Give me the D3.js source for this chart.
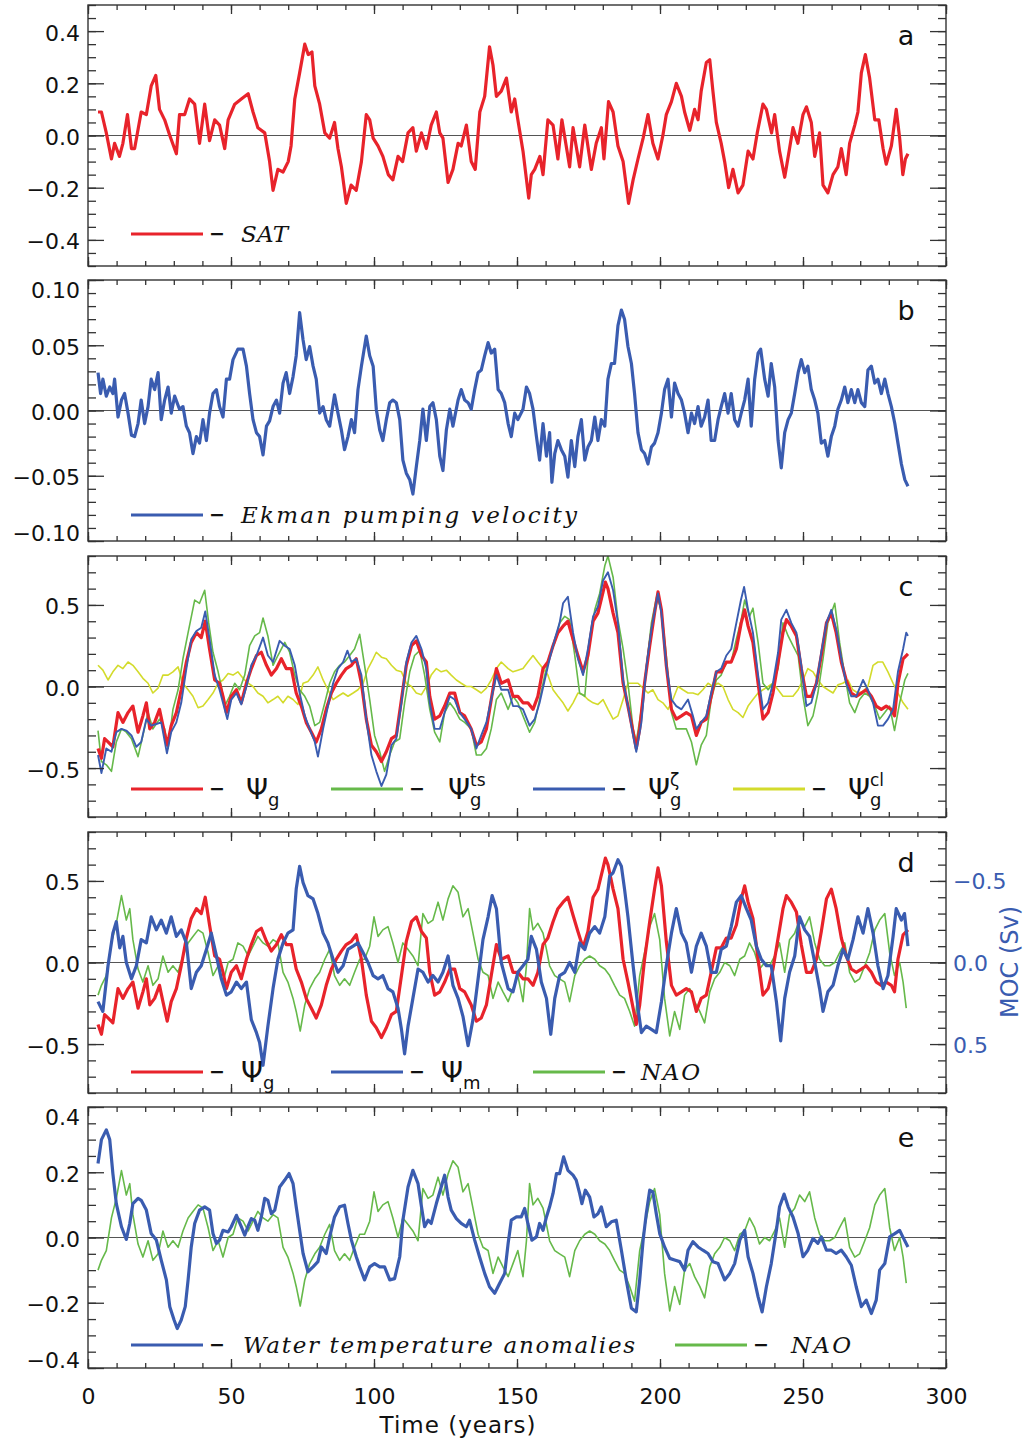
<!DOCTYPE html>
<html>
<head>
<meta charset="utf-8">
<script src="https://cdn.jsdelivr.net/npm/d3@7"></script>
<style>
  body { margin: 0; background: #fff; }
  text { font-family: "DejaVu Sans", sans-serif; }
  text.lab { font-family: "DejaVu Serif", serif; font-style: italic; }
</style>
</head>
<body>
<svg id="chart"></svg>
<script>
// *********************************************
// DATA  ([year, value])
// *********************************************
var sat = [[3.5,0.09],[4.7,0.09],[6.4,0.01],[8.2,-0.09],[9.3,-0.03],[11,-0.08],[12.2,-0.03],[13.8,0.08],[15.2,-0.05],[16.3,-0.05],[18.6,0.09],[20.4,0.08],[22.1,0.19],[23.7,0.23],[25,0.10],[26.8,0.06],[28.6,0.0],[30.9,-0.07],[32,0.08],[33.8,0.08],[35.5,0.14],[37.3,0.12],[39,-0.03],[40.8,0.12],[42.5,-0.02],[44.3,0.06],[46,0.04],[47.8,-0.05],[49,0.06],[51.3,0.12],[53.6,0.14],[56,0.16],[57.7,0.09],[59.4,0.03],[61.8,0.01],[63.5,-0.10],[64.7,-0.21],[66.4,-0.13],[68.2,-0.14],[70,-0.10],[71,-0.04],[72.3,0.14],[74,0.24],[75.8,0.35],[77,0.31],[78.3,0.32],[79.3,0.19],[81,0.12],[82.8,0.01],[84.5,-0.01],[86.2,0.05],[87.4,-0.05],[88.6,-0.12],[90.3,-0.26],[92,-0.19],[93.8,-0.21],[95.6,-0.10],[97.3,0.08],[98.5,0.06],[99.7,-0.01],[101.4,-0.04],[103.1,-0.08],[105,-0.15],[106.6,-0.17],[108.4,-0.08],[110,-0.10],[111.9,0.01],[113.6,0.03],[114.8,-0.06],[116.6,0.01],[118.3,-0.05],[120,0.04],[121.8,0.09],[123,0.01],[124.1,-0.01],[125.9,-0.18],[127.6,-0.13],[129.4,-0.03],[130.5,-0.04],[132.3,0.04],[134,-0.10],[135.4,-0.13],[137,0.09],[138.7,0.15],[140.4,0.34],[141.6,0.27],[142.8,0.15],[144.5,0.17],[146.3,0.22],[148,0.09],[149.2,0.14],[150.3,0.06],[152.1,-0.06],[154.1,-0.24],[155,-0.15],[156.2,-0.13],[158,-0.08],[159.1,-0.15],[160.8,0.06],[162.6,0.04],[164.3,-0.09],[165.7,0.06],[168.4,-0.12],[169.6,0.03],[171.9,-0.12],[173.7,0.04],[176,-0.13],[177.7,-0.03],[179.5,0.03],[180.4,-0.09],[182,0.13],[183.6,0.09],[185.3,-0.04],[187.1,-0.10],[189,-0.26],[190.6,-0.17],[192.3,-0.09],[194.1,-0.01],[195.8,0.08],[197.5,-0.03],[199.3,-0.09],[201,0.0],[202.2,0.08],[204,0.13],[205.7,0.20],[207.5,0.15],[208.6,0.09],[210.4,0.02],[212.1,0.10],[213.3,0.06],[214.4,0.17],[216.2,0.28],[217.4,0.29],[218.5,0.17],[219.7,0.05],[221.4,-0.03],[222.6,-0.10],[224,-0.20],[225.5,-0.13],[227.3,-0.22],[229,-0.19],[230.8,-0.06],[232.5,-0.09],[234,0.01],[236,0.12],[237.2,0.10],[239,0.01],[240.1,0.08],[241.8,-0.06],[243.6,-0.16],[245.3,-0.05],[246.5,0.03],[248.2,-0.03],[250,0.08],[251.2,0.11],[252.9,0.05],[254.1,-0.08],[255.8,0.01],[257,-0.19],[258.7,-0.22],[260.5,-0.15],[262.2,-0.12],[263.4,-0.05],[265.1,-0.15],[266.3,-0.03],[268.1,0.04],[269.2,0.09],[270.4,0.24],[271.8,0.31],[273.3,0.22],[275.1,0.06],[276.5,0.06],[278,-0.05],[279.1,-0.11],[280.9,-0.04],[282.6,0.10],[283.8,-0.01],[284.9,-0.15],[285.8,-0.09],[286.7,-0.07]];

var ekman = [[3.5,0.029],[4.4,0.013],[5.2,0.024],[6.4,0.011],[7.6,0.018],[8.7,0.013],[9.3,0.024],[10.5,-0.005],[11.7,0.008],[12.8,0.013],[14,-0.002],[15.2,-0.019],[16.3,-0.020],[17.5,-0.010],[18.6,0.008],[19.8,-0.010],[21,0.003],[22.1,0.024],[23.3,0.016],[24.5,0.029],[25.6,-0.007],[26.8,0.008],[28,0.018],[29.1,-0.002],[30.3,0.011],[32,0.001],[33.2,0.003],[34.4,-0.012],[35.5,-0.017],[36.7,-0.033],[37.9,-0.020],[39,-0.025],[40.2,-0.007],[41.4,-0.023],[42.5,-0.002],[43.7,0.013],[44.9,0.016],[46,0.003],[47.2,-0.005],[48.4,0.024],[49.5,0.024],[50.7,0.039],[52.4,0.047],[54.2,0.047],[55.4,0.034],[56.5,0.013],[57.7,-0.007],[58.9,-0.017],[60,-0.020],[61.2,-0.034],[62.4,-0.012],[63.5,-0.008],[64.7,0.003],[65.9,0.008],[67,-0.002],[68.2,0.021],[69.3,0.029],[70.5,0.013],[71.7,0.026],[72.8,0.042],[74,0.075],[75.2,0.054],[76.3,0.039],[77.5,0.049],[78.7,0.034],[79.8,0.024],[81,-0.002],[82.2,0.003],[83.3,-0.007],[84.5,-0.012],[86.2,0.012],[87.4,-0.002],[88.6,-0.015],[89.7,-0.030],[90.9,-0.020],[92.1,-0.007],[93.2,-0.017],[94.4,0.016],[95.6,0.034],[97.3,0.057],[98.5,0.042],[99.7,0.034],[100.8,0.001],[102,-0.015],[103.1,-0.023],[104.3,-0.007],[105.5,0.006],[106.6,0.008],[107.8,0.006],[109,-0.007],[110.1,-0.038],[111.3,-0.048],[112.5,-0.053],[113.6,-0.064],[114.8,-0.043],[116,-0.023],[117.1,0.001],[118.3,-0.023],[119.5,0.003],[120.6,0.006],[121.8,-0.007],[123,-0.035],[124.1,-0.046],[125.3,-0.015],[126.5,0.001],[127.6,-0.012],[129.4,0.008],[130.5,0.016],[131.7,0.008],[132.9,0.006],[134,0.001],[135.2,0.016],[136.4,0.029],[137.5,0.031],[138.7,0.042],[139.9,0.052],[141,0.044],[142.2,0.047],[143.4,0.016],[144.5,0.013],[145.7,0.006],[146.9,-0.010],[148,-0.020],[149.2,-0.002],[150.3,-0.007],[152.1,0.001],[153.3,0.018],[154.4,0.013],[155.6,0.001],[156.8,-0.020],[157.9,-0.038],[159.1,-0.010],[160.3,-0.035],[161.4,-0.017],[162.2,-0.055],[163.2,-0.033],[164.3,-0.023],[165.5,-0.030],[166.7,-0.035],[167.8,-0.051],[169,-0.023],[170.2,-0.043],[171.3,-0.020],[172.5,-0.007],[173.7,-0.038],[174.8,-0.028],[176,-0.023],[177.2,-0.005],[178.3,-0.023],[179.5,-0.007],[180.7,-0.012],[181.8,0.024],[183,0.036],[184.1,0.036],[185.3,0.065],[186.5,0.077],[187.6,0.070],[188.8,0.049],[190,0.036],[191.1,0.013],[192.3,-0.017],[193.5,-0.030],[194.6,-0.033],[195.8,-0.041],[197,-0.028],[198.1,-0.025],[199.3,-0.017],[200.5,-0.002],[201.6,0.016],[202.8,0.024],[204,-0.005],[205.1,0.021],[206.3,0.013],[207.5,0.008],[208.6,-0.002],[209.8,-0.017],[211,-0.002],[212.1,-0.010],[213.3,0.003],[214.4,-0.012],[215.6,-0.005],[216.8,0.008],[217.9,-0.023],[219.1,-0.023],[220.3,-0.007],[221.4,0.003],[222.6,0.013],[223.8,-0.002],[224.9,0.013],[226.1,-0.007],[227.3,-0.012],[228.4,-0.002],[229.6,0.008],[230.8,0.024],[231.9,-0.012],[233.1,0.024],[234.3,0.044],[235.2,0.047],[236.6,0.024],[237.8,0.011],[238.9,0.036],[240.1,0.018],[241.3,-0.023],[242.4,-0.044],[243.6,-0.017],[244.8,-0.007],[245.9,-0.002],[247.1,0.013],[248.3,0.029],[249.4,0.039],[250.6,0.029],[251.7,0.034],[252.9,0.016],[254.1,0.008],[255.2,-0.002],[256.4,-0.025],[257.6,-0.023],[258.7,-0.035],[259.9,-0.020],[261.1,-0.012],[262.2,0.001],[263.4,0.008],[264.6,0.018],[265.7,0.006],[266.9,0.016],[268.1,0.006],[269.2,0.016],[270.4,0.006],[271.6,0.003],[272.7,0.031],[273.9,0.034],[275.1,0.021],[276.2,0.024],[277.4,0.013],[278.6,0.024],[279.7,0.013],[280.9,0.003],[282.1,-0.010],[283.2,-0.025],[284.4,-0.041],[285.6,-0.053],[286.7,-0.058]];

var psiG = [[3.5,-0.38],[4.7,-0.44],[5.8,-0.32],[7,-0.34],[8.7,-0.37],[10.5,-0.16],[12.2,-0.22],[14,-0.16],[15.7,-0.12],[17.5,-0.28],[19.2,-0.18],[20.4,-0.10],[21.6,-0.26],[23.3,-0.22],[25,-0.14],[26.2,-0.24],[27.7,-0.36],[29.1,-0.24],[30.9,-0.16],[32.6,-0.02],[34.4,0.15],[36.1,0.27],[37.9,0.33],[39.6,0.30],[41,0.40],[42.5,0.23],[44.3,0.04],[46,0.02],[47.2,-0.06],[48.4,-0.16],[50.1,-0.06],[51.9,-0.02],[53.6,-0.10],[55.4,0.02],[57.1,0.11],[58.9,0.19],[60.6,0.21],[62.4,0.13],[64.1,0.07],[65.9,0.11],[67.6,0.17],[69.3,0.11],[71.1,0.11],[72.8,-0.04],[74.6,-0.12],[76.3,-0.22],[78.1,-0.28],[79.8,-0.34],[81.6,-0.26],[83.3,-0.14],[85.1,-0.04],[86.8,0.02],[88.6,0.07],[90.3,0.11],[92.1,0.13],[93.8,0.17],[95.6,0.02],[97.3,-0.20],[99.1,-0.36],[100.8,-0.40],[102.6,-0.46],[104.3,-0.40],[106.1,-0.32],[107.8,-0.30],[109.6,-0.08],[111.3,0.13],[113.1,0.25],[114.8,0.28],[116.6,0.19],[118.3,0.15],[119.5,-0.06],[121.2,-0.20],[123,-0.18],[124.7,-0.12],[126.5,-0.04],[128.2,-0.04],[130,-0.16],[131.7,-0.18],[134,-0.26],[135.8,-0.36],[137.5,-0.34],[139.3,-0.26],[141,-0.08],[142.8,0.11],[144.5,0.02],[146.9,0.04],[148.6,-0.06],[150.3,-0.06],[152.1,-0.10],[153.8,-0.10],[155.6,-0.14],[157.3,-0.06],[159.1,0.11],[160.8,0.15],[162.6,0.25],[164.3,0.33],[166.1,0.37],[167.8,0.40],[169.6,0.29],[171.3,0.19],[173.1,0.09],[174.8,0.19],[176.6,0.40],[178.3,0.45],[180.1,0.58],[180.9,0.64],[181.8,0.60],[183.6,0.45],[185.3,0.33],[187.1,0.02],[188.8,-0.12],[190.6,-0.28],[191.7,-0.38],[192.9,-0.26],[194.6,0.02],[196.4,0.25],[198.1,0.45],[199.3,0.58],[200.5,0.47],[202.2,0.13],[204,-0.14],[205.7,-0.20],[207.5,-0.18],[209.2,-0.16],[211,-0.18],[212.7,-0.30],[214.4,-0.22],[216.2,-0.20],[217.9,-0.06],[219.7,0.09],[221.4,0.09],[223.2,0.15],[224.9,0.15],[226.7,0.23],[228.4,0.39],[229.6,0.47],[230.8,0.37],[232.5,0.27],[234.3,0.02],[236,-0.20],[237.8,-0.16],[239.5,-0.04],[241.3,0.15],[243,0.33],[244.2,0.41],[245.9,0.37],[247.7,0.31],[249.4,0.11],[251.2,-0.06],[252.9,-0.06],[254.7,0.02],[256.4,0.19],[258.2,0.39],[259.9,0.45],[261.6,0.33],[263.4,0.15],[265.1,0.04],[266.9,-0.04],[268.6,-0.06],[270.4,-0.04],[272.1,-0.02],[273.9,-0.06],[275.6,-0.12],[277.4,-0.14],[279.1,-0.12],[280.9,-0.14],[282,-0.18],[283.2,0.02],[285,0.17],[286.7,0.20]];

var psiTs = [[3.5,-0.27],[4.7,-0.46],[6.4,-0.48],[8.2,-0.52],[9.9,-0.34],[11.7,-0.26],[13.4,-0.28],[15.2,-0.32],[17.5,-0.43],[19.2,-0.30],[21,-0.16],[22.7,-0.26],[25,-0.20],[26.8,-0.26],[28,-0.38],[29.7,-0.14],[31.5,-0.02],[33.2,0.17],[35,0.33],[37.3,0.53],[39,0.51],[40.8,0.59],[42.2,0.39],[43.7,0.21],[45.5,0.09],[46.6,0.0],[47.8,-0.12],[49.5,-0.06],[51.3,0.02],[53,-0.02],[54.8,0.07],[56.5,0.25],[58.3,0.31],[60,0.33],[61.2,0.42],[62.9,0.31],[64.7,0.13],[66.4,0.19],[68.8,0.27],[70.5,0.21],[72.3,0.07],[74,-0.02],[75.8,-0.06],[77.5,-0.12],[79.3,-0.24],[81,-0.22],[82.8,-0.10],[84.5,0.02],[86.2,0.09],[88,0.13],[89.7,0.15],[91.5,0.19],[93.2,0.23],[95,0.32],[96.7,0.13],[98.5,-0.08],[100.2,-0.30],[102,-0.40],[103.7,-0.52],[105.5,-0.42],[107.2,-0.34],[109,-0.32],[110.7,-0.10],[112.5,0.09],[114.2,0.19],[116,0.22],[117.7,0.07],[119.5,-0.14],[121.2,-0.28],[123,-0.34],[124.7,-0.16],[126.5,-0.10],[128.2,-0.14],[130,-0.20],[131.7,-0.22],[134,-0.26],[135.8,-0.42],[137.5,-0.42],[139.3,-0.38],[141,-0.26],[142.8,-0.08],[144.5,-0.04],[146.9,-0.14],[148.6,-0.06],[150.3,-0.10],[152.1,-0.18],[154.4,-0.28],[156.2,-0.22],[157.9,-0.08],[159.7,0.07],[161.4,0.19],[163.2,0.27],[164.9,0.39],[166.7,0.43],[168.4,0.41],[170.2,0.19],[171.9,-0.04],[173.7,-0.06],[175.4,0.29],[177.2,0.47],[178.9,0.57],[180.7,0.74],[181.8,0.80],[183.6,0.67],[185.3,0.41],[187.1,0.23],[188.8,0.02],[190.6,-0.26],[191.7,-0.34],[193.5,-0.14],[195.3,0.13],[197,0.39],[198.8,0.55],[200.5,0.47],[202.2,0.19],[204,-0.16],[205.7,-0.26],[207.5,-0.26],[209.2,-0.26],[211,-0.34],[212.7,-0.48],[214.4,-0.36],[216.2,-0.30],[217.9,-0.08],[219.7,0.04],[221.4,0.07],[223.2,0.15],[224.9,0.15],[226.7,0.29],[228.4,0.41],[229.6,0.53],[231.3,0.43],[232.5,0.48],[234.3,0.27],[236,0.02],[237.8,-0.02],[239.5,0.02],[241.3,0.11],[243,0.39],[244.8,0.31],[246.5,0.25],[248.3,0.19],[250,-0.06],[251.7,-0.24],[253.5,-0.18],[255.2,-0.04],[257,0.17],[258.7,0.39],[261.1,0.51],[262.8,0.27],[264.6,0.07],[266.3,-0.10],[268.1,-0.16],[269.8,-0.08],[271.6,-0.04],[273.3,-0.06],[275.1,-0.12],[276.8,-0.20],[278.6,-0.16],[280.3,-0.12],[282,-0.27],[283.8,-0.10],[285.6,0.04],[286.7,0.08]];

var psiZeta = [[3.5,-0.42],[4.7,-0.53],[6.4,-0.38],[8.2,-0.40],[9.9,-0.28],[11.7,-0.26],[13.4,-0.27],[15.2,-0.30],[16.9,-0.37],[18.6,-0.34],[20.4,-0.20],[22.1,-0.24],[23.9,-0.23],[25.6,-0.22],[27.6,-0.41],[29.1,-0.28],[30.9,-0.22],[32.6,-0.10],[34.4,0.11],[36.1,0.29],[37.9,0.34],[39.6,0.36],[41,0.46],[42.5,0.29],[44.3,0.07],[46,-0.02],[47.2,-0.10],[48.7,-0.20],[50.1,-0.08],[51.9,-0.04],[53.6,-0.11],[55.4,0.0],[57.1,0.13],[58.9,0.19],[61.2,0.30],[62.9,0.19],[64.7,0.15],[67,0.28],[68.8,0.25],[70.5,0.23],[72.3,0.13],[74,-0.04],[75.8,-0.18],[77.5,-0.26],[79.3,-0.34],[80.4,-0.43],[82.2,-0.26],[83.9,-0.12],[85.7,0.02],[87.4,0.11],[89.2,0.15],[90.7,0.22],[92.1,0.15],[93.8,0.17],[95.6,0.07],[97.3,-0.20],[99.1,-0.42],[100.8,-0.52],[102.6,-0.61],[104.3,-0.54],[106.1,-0.36],[107.8,-0.32],[109.6,-0.10],[111.3,0.15],[113.1,0.27],[114.8,0.31],[116.6,0.23],[118.3,0.11],[119.5,-0.10],[121.2,-0.26],[123,-0.26],[124.7,-0.16],[126.5,-0.06],[128.2,-0.08],[130,-0.16],[131.7,-0.20],[134,-0.26],[135.8,-0.38],[137.5,-0.30],[139.3,-0.22],[141,-0.08],[142.8,0.07],[144.5,-0.02],[146.9,-0.02],[148.6,-0.12],[150.3,-0.12],[152.1,-0.14],[154.4,-0.24],[156.2,-0.20],[157.9,-0.10],[159.7,0.04],[161.4,0.17],[163.2,0.29],[164.9,0.39],[166.1,0.51],[167.8,0.55],[169.6,0.33],[171.3,0.17],[173.1,0.07],[174.8,0.23],[176.6,0.43],[178.3,0.49],[180.1,0.65],[181.8,0.70],[183.6,0.59],[185.3,0.39],[187.1,0.04],[188.8,-0.12],[190.6,-0.30],[191.7,-0.40],[193.5,-0.22],[195.3,0.13],[197,0.35],[199.3,0.57],[200.5,0.45],[202.2,0.13],[204,-0.08],[205.7,-0.12],[207.5,-0.14],[209.8,-0.08],[211.5,-0.18],[212.7,-0.26],[214.4,-0.22],[216.2,-0.18],[217.9,-0.04],[219.7,0.09],[221.4,0.11],[223.2,0.19],[224.9,0.23],[226.7,0.39],[228.3,0.53],[229.4,0.61],[230.8,0.47],[232.5,0.33],[234.3,0.07],[236,-0.14],[237.8,-0.10],[239.5,0.02],[241.3,0.21],[242.4,0.41],[244.2,0.47],[245.9,0.39],[247.7,0.33],[249.4,0.13],[251.2,-0.12],[252.9,-0.10],[254.7,0.02],[256.4,0.21],[258.2,0.39],[259.9,0.47],[261.6,0.35],[263.4,0.17],[265.1,0.02],[266.9,-0.06],[268.6,-0.06],[271,0.04],[272.7,-0.02],[274.5,-0.10],[276.2,-0.24],[278,-0.24],[279.7,-0.20],[281.5,-0.14],[283.2,0.09],[285,0.23],[286.1,0.33],[286.7,0.31]];

var psiCl = [[3.5,0.13],[5.2,0.10],[7,0.04],[8.7,0.09],[10.5,0.13],[12.2,0.11],[14,0.15],[15.7,0.13],[17.5,0.09],[19.2,0.05],[21,0.02],[22.7,-0.04],[24.5,-0.01],[26.2,0.07],[28,0.07],[29.7,0.09],[31.5,0.12],[33.2,0.02],[35,-0.02],[36.7,-0.06],[38.5,-0.13],[40.2,-0.12],[42,-0.08],[43.7,-0.04],[45.5,0.02],[47.2,0.04],[49,0.08],[50.7,0.07],[52.4,0.09],[54.2,0.05],[56,0.02],[57.7,0.0],[59.4,-0.04],[61.2,-0.06],[62.9,-0.10],[64.7,-0.08],[66.4,-0.06],[68.2,-0.10],[69.9,-0.06],[71.7,-0.08],[73.4,-0.11],[75.2,0.02],[76.9,0.03],[78.7,0.07],[80.4,0.12],[82.2,0.04],[83.9,-0.02],[85.7,-0.08],[87.4,-0.06],[89.2,-0.04],[90.9,-0.06],[92.7,-0.04],[94.4,-0.02],[96.2,0.02],[97.9,0.11],[99.7,0.17],[100.8,0.21],[102.6,0.18],[104.3,0.17],[106.1,0.13],[107.8,0.10],[109.6,0.09],[111.3,0.02],[113.1,0.0],[114.8,-0.04],[116.6,-0.05],[118.3,0.0],[120,0.07],[121.8,0.11],[123.5,0.09],[125.3,0.10],[127,0.07],[128.8,0.04],[130.5,0.02],[132.3,0.0],[134,0.0],[135.8,-0.02],[137.5,-0.04],[139.3,-0.01],[141,0.04],[142.8,0.11],[144.5,0.15],[146.9,0.11],[148.6,0.09],[150.3,0.10],[152.1,0.11],[153.8,0.15],[155.6,0.19],[157.3,0.15],[159.1,0.11],[160.8,0.07],[162.6,-0.02],[164.3,-0.06],[166.1,-0.10],[167.8,-0.15],[169.6,-0.10],[171.3,-0.04],[173.1,-0.05],[174.8,-0.08],[176.6,-0.10],[178.3,-0.11],[180.1,-0.08],[181.8,-0.14],[183.6,-0.20],[185.3,-0.18],[187.1,-0.08],[188.8,0.02],[190.6,0.02],[192.3,0.02],[194.1,-0.01],[195.8,-0.04],[197.5,-0.02],[199.3,-0.08],[201,-0.10],[202.8,-0.14],[204.5,-0.08],[206.3,0.0],[208,-0.02],[209.8,-0.04],[211.5,-0.04],[213.3,-0.05],[215,-0.02],[216.8,0.02],[218.5,0.0],[220.3,0.02],[222,0.0],[223.8,-0.08],[225.5,-0.14],[227.3,-0.16],[229,-0.19],[230.8,-0.12],[232.5,-0.08],[234.3,-0.04],[236,-0.02],[237.8,0.0],[239.5,0.02],[241.3,-0.02],[243,-0.06],[244.8,-0.06],[246.5,-0.06],[248.3,-0.02],[250,0.04],[251.7,0.11],[253.5,0.09],[255.2,0.04],[257,0.0],[258.7,-0.02],[260.5,-0.04],[262.2,0.01],[263.9,0.02],[265.7,0.04],[267.4,-0.02],[269.2,-0.04],[270.9,-0.03],[272.7,0.0],[274.5,0.13],[276.2,0.15],[277.9,0.15],[279.7,0.09],[281.5,0.02],[283.2,-0.04],[285,-0.10],[286.7,-0.14]];

// MOC in Sv (right axis of panel d, drawn inverted)
var psiM = [[3.5,0.24],[5.2,0.30],[7,0.02],[8.7,-0.18],[9.9,-0.25],[11.1,-0.09],[12.2,-0.16],[13.4,0.0],[15.2,0.10],[16.9,0.02],[18.6,-0.14],[20.4,-0.12],[22.1,-0.28],[23.9,-0.20],[25.6,-0.26],[27.4,-0.18],[29.1,-0.28],[30.9,-0.16],[32.6,-0.20],[34.4,-0.12],[36.1,0.16],[37.9,0.06],[39.6,0.02],[41.4,-0.08],[43.1,-0.18],[44.9,-0.04],[46.6,0.10],[48.4,0.20],[50.1,0.18],[51.9,0.12],[53.6,0.16],[55.4,0.12],[57.1,0.35],[58.9,0.43],[60,0.49],[61.2,0.63],[62.9,0.39],[64.7,0.16],[66.4,-0.02],[68.2,-0.12],[69.9,-0.18],[71.7,-0.20],[72.8,-0.45],[74,-0.59],[75.2,-0.49],[76.9,-0.41],[78.7,-0.39],[80.4,-0.30],[82.2,-0.18],[83.9,-0.12],[85.7,-0.02],[87.4,0.06],[89.2,0.02],[90.9,-0.08],[92.7,-0.10],[94.4,-0.12],[96.2,-0.06],[97.9,0.0],[99.7,0.08],[101.4,0.10],[103.1,0.08],[104.9,0.16],[106.6,0.18],[108.4,0.28],[109.6,0.41],[110.7,0.56],[111.9,0.39],[113.6,0.22],[115.4,0.04],[117.1,0.06],[118.9,0.12],[120.6,0.08],[122.4,0.12],[124.1,0.06],[125.9,-0.04],[127.6,0.14],[129.4,0.22],[131.1,0.33],[132.9,0.51],[134.6,0.35],[136.4,0.10],[138.1,-0.14],[139.9,-0.28],[141.3,-0.41],[142.8,-0.33],[144.5,0.0],[146.9,0.16],[148.6,0.18],[150.3,0.06],[152.1,0.02],[153.8,-0.02],[155,-0.16],[156.8,-0.08],[158.5,0.12],[160.3,0.22],[161.8,0.44],[163.2,0.22],[164.9,0.08],[166.7,0.06],[168.4,0.0],[170.2,0.06],[171.9,-0.12],[173.7,-0.08],[175.4,-0.18],[177.2,-0.22],[178.9,-0.18],[180.7,-0.28],[182.4,-0.53],[183.6,-0.55],[185.3,-0.63],[186.5,-0.59],[187.6,-0.45],[188.8,-0.28],[190.6,0.02],[192.3,0.28],[193.5,0.43],[195.2,0.39],[197,0.41],[198.7,0.43],[200.5,0.24],[202.2,0.02],[204,-0.18],[205.7,-0.33],[207.5,-0.18],[209.2,-0.12],[211,0.06],[212.7,-0.10],[214.4,-0.18],[216.2,-0.10],[217.9,0.06],[219.7,0.06],[221.4,-0.08],[223.2,-0.10],[224.9,-0.22],[226.7,-0.37],[228.4,-0.41],[230.2,-0.33],[231.9,-0.26],[233.7,-0.10],[235.4,-0.02],[237.2,0.02],[238.9,0.02],[240.7,0.24],[242.2,0.48],[243.6,0.22],[245.3,0.06],[247.1,-0.04],[248.8,-0.28],[250.6,-0.20],[252.3,-0.16],[254.1,0.0],[255.8,0.16],[257,0.30],[258.7,0.18],[260.5,0.14],[262.2,0.02],[264,-0.08],[265.7,-0.02],[267.5,-0.14],[269.2,-0.28],[271,-0.18],[272.7,-0.33],[274.5,-0.18],[276.2,0.02],[278,0.16],[279.7,0.08],[281.5,-0.16],[282.6,-0.33],[284.4,-0.26],[285.5,-0.30],[286.7,-0.10]];

var nao = [[3.5,-0.20],[4.7,-0.14],[6.4,-0.08],[8.2,0.12],[9.9,0.24],[11.7,0.41],[13.4,0.26],[14.6,0.33],[15.7,0.14],[17.5,-0.04],[19.2,-0.12],[21,-0.02],[22.7,-0.14],[24.5,-0.10],[26.2,0.04],[28,-0.06],[29.7,-0.02],[31.5,-0.06],[33.2,0.04],[35,0.12],[36.7,0.16],[38.5,0.20],[40.2,0.18],[42,0.06],[43.7,-0.08],[45.5,-0.02],[47.2,-0.12],[49,0.0],[50.7,0.02],[52.4,0.12],[54.2,0.10],[56,0.04],[57.7,0.10],[59.4,0.16],[61.2,0.12],[62.9,0.10],[64.7,0.14],[66.4,0.12],[68.2,-0.06],[69.9,-0.12],[71.7,-0.22],[72.8,-0.30],[74.2,-0.42],[75.8,-0.26],[77.5,-0.16],[79.3,-0.10],[81,-0.06],[82.8,0.02],[84.5,0.08],[86.2,-0.08],[88,-0.14],[89.7,-0.10],[91.5,-0.14],[93.2,-0.06],[95,0.02],[96.7,0.02],[98.5,0.10],[100,0.28],[101.4,0.16],[103.1,0.20],[104.9,0.22],[106.6,0.12],[108.4,0.0],[110.1,0.12],[111.9,0.08],[113.6,0.04],[115.4,-0.02],[117.1,0.30],[118.9,0.24],[120.6,0.26],[122.4,0.37],[124.1,0.26],[125.9,0.39],[127.6,0.47],[129.4,0.43],[131.1,0.28],[132.9,0.33],[134.6,0.18],[136.4,0.02],[138.1,-0.06],[139.9,-0.08],[141.6,-0.22],[143.4,-0.12],[145.1,-0.18],[146.9,-0.24],[148.6,-0.16],[150.3,-0.08],[152.1,-0.24],[153.3,-0.02],[154.4,0.33],[155.6,0.20],[157.3,0.24],[159.1,0.18],[160.3,0.08],[161.4,-0.02],[163.2,-0.08],[164.9,-0.10],[166.7,-0.12],[168.4,-0.24],[170.2,-0.08],[171.9,-0.02],[173.7,0.02],[175.4,0.04],[177.2,0.02],[178.9,-0.02],[180.7,-0.04],[182.4,-0.08],[184.1,-0.14],[185.9,-0.20],[187.6,-0.22],[189.4,-0.30],[191.1,-0.39],[192.9,-0.08],[194.6,0.06],[196.4,0.22],[198.1,0.30],[199.9,0.14],[201.6,-0.22],[203.4,-0.45],[205.1,-0.30],[206.9,-0.41],[208.6,-0.20],[210.4,-0.16],[212.1,-0.24],[213.9,-0.30],[215.6,-0.37],[217.4,-0.18],[219.1,-0.10],[220.9,-0.06],[222.6,0.0],[224.4,-0.02],[226.1,-0.08],[227.9,0.02],[229.6,0.04],[231.3,0.12],[233.1,0.06],[234.8,-0.04],[236.6,0.0],[238.3,-0.02],[240.1,0.04],[241.8,0.12],[243.6,-0.06],[245.3,0.14],[247.1,0.18],[248.8,0.26],[250.6,0.22],[252.3,0.28],[254.1,0.12],[255.8,0.02],[257.6,-0.02],[259.3,-0.02],[261.1,0.0],[262.8,0.06],[264.6,0.12],[266.3,-0.06],[268.1,-0.12],[269.8,-0.10],[271.6,-0.02],[273.3,0.06],[275.1,0.20],[276.8,0.26],[278.6,0.30],[280.3,0.06],[282,-0.08],[283.8,0.0],[285,-0.12],[286.1,-0.28]];

var waterT = [[3.5,0.227],[4.7,0.30],[6.4,0.33],[7.6,0.30],[8.7,0.196],[9.9,0.104],[11.7,0.033],[13.4,-0.006],[14.6,0.043],[15.7,0.104],[17.5,0.12],[18.6,0.114],[20.4,0.084],[22.1,0.012],[23.9,-0.008],[25.6,-0.069],[27.4,-0.13],[28.6,-0.212],[30.1,-0.253],[31.2,-0.279],[32.6,-0.253],[34,-0.212],[35,-0.13],[36.1,-0.029],[37.3,0.043],[39,0.084],[40.8,0.094],[42.5,0.084],[43.7,0.012],[44.9,-0.018],[46,-0.008],[47.2,0.022],[49,0.017],[50.1,0.033],[51.9,0.068],[53.6,0.033],[54.8,0.007],[55.9,0.033],[57.1,0.058],[58.3,0.053],[59.4,0.022],[60.6,0.063],[61.8,0.12],[62.9,0.114],[64.1,0.073],[65.3,0.084],[67,0.155],[68.8,0.176],[70.3,0.196],[71.7,0.165],[72.8,0.094],[74,0.022],[75.2,-0.049],[76.9,-0.105],[78.7,-0.09],[80.4,-0.074],[81.6,-0.029],[83.3,-0.049],[84.5,0.002],[86.2,0.063],[88,0.094],[89.7,0.099],[90.9,0.043],[92.1,-0.008],[93.8,-0.059],[95,-0.09],[96.7,-0.13],[98.5,-0.09],[100.2,-0.08],[102,-0.09],[103.7,-0.09],[105.5,-0.13],[107.2,-0.126],[109,-0.059],[110.1,0.053],[111.9,0.155],[113.6,0.206],[115.4,0.165],[116.6,0.094],[117.7,0.033],[118.9,0.053],[120,0.043],[121.8,0.104],[123.5,0.155],[124.7,0.191],[125.9,0.124],[127,0.084],[128.8,0.058],[130.5,0.043],[132.3,0.033],[133.4,0.053],[135.2,-0.008],[136.9,-0.059],[138.7,-0.11],[140.4,-0.151],[142.2,-0.171],[143.9,-0.141],[145.7,-0.11],[146.9,-0.018],[148,0.053],[149.8,0.063],[151.5,0.063],[152.7,0.089],[153.8,0.043],[155.2,-0.008],[156.8,0.002],[157.9,0.043],[159.1,0.022],[160.3,0.063],[161.4,0.094],[162.6,0.135],[163.8,0.196],[164.9,0.196],[166.3,0.247],[167.8,0.206],[169.6,0.191],[170.7,0.176],[171.9,0.135],[172.7,0.104],[173.9,0.145],[175.4,0.124],[176.9,0.063],[178.3,0.073],[179.5,0.094],[181.2,0.033],[183,0.048],[184.7,0.053],[186.5,-0.039],[188.2,-0.13],[190,-0.217],[191.7,-0.228],[192.9,-0.13],[194.1,-0.008],[195.2,0.073],[196.4,0.145],[197.5,0.14],[198.7,0.073],[199.9,0.012],[201.6,-0.029],[203.4,-0.064],[205.1,-0.069],[206.9,-0.074],[208.6,-0.10],[209.8,-0.039],[211.5,-0.013],[213.3,-0.029],[215,-0.039],[216.8,-0.049],[218.5,-0.074],[220.3,-0.08],[222.6,-0.13],[224.4,-0.11],[226.1,-0.08],[227.9,-0.008],[229.6,0.022],[230.8,-0.059],[232.5,-0.11],[234.3,-0.182],[235.7,-0.228],[237.2,-0.151],[238.9,-0.08],[240.7,0.022],[241.8,0.094],[243.4,0.133],[244.8,0.094],[246.5,0.063],[248.3,0.012],[250,-0.059],[251.7,-0.039],[253.5,-0.003],[255.2,-0.018],[256.4,0.002],[258.2,-0.039],[259.9,-0.039],[261.6,-0.049],[263.4,-0.039],[265.1,-0.059],[266.9,-0.085],[268.6,-0.151],[270.4,-0.212],[272.1,-0.192],[273.9,-0.233],[275.6,-0.192],[276.8,-0.10],[278.6,-0.08],[280.3,0.002],[282.1,0.012],[283.8,0.022],[284.9,0.002],[286.7,-0.029]];

// tick labels
var xTicks = [0, 50, 100, 150, 200, 250, 300];
var aTicks = [-0.4, -0.2, 0, 0.2, 0.4];
var bTicks = [-0.10, -0.05, 0, 0.05, 0.10];
var cTicks = [-0.5, 0, 0.5];
var dTicks = [-0.5, 0, 0.5];
var mocTicks = [-0.5, 0, 0.5];
var eTicks = [-0.4, -0.2, 0, 0.2, 0.4];

// *********************************************
// SETUP
// *********************************************
var width = 1024, height = 1443;
var left = 88, right = 946, ph = 261;
var RED = "#e8232b", BLUE = "#3a5cb0", GREEN = "#66b94a", YELLOW = "#d3db2c";
var AXIS = "#333";

var svg = d3.select("#chart").attr("width", width).attr("height", height);
var x = d3.scaleLinear().domain([0, 300]).range([left, right]);

var panels = [
  {id: "a", top: 5, lim: 0.5, ticks: aTicks, minor: 0.05, fmt: ".1f", legendY: 229,
   series: [{data: sat, color: RED, w: 3.2}],
   legend: [{x: 131, color: RED, label: "SAT", tx: 241, len: 47}]},
  {id: "b", top: 280, lim: 0.10, ticks: bTicks, minor: 0.01, fmt: ".2f", legendY: 235,
   series: [{data: ekman, color: BLUE, w: 3.2}],
   legend: [{x: 131, color: BLUE, label: "Ekman pumping velocity", tx: 241, len: 336}]},
  {id: "c", top: 556, lim: 0.8, ticks: cTicks, minor: 0.1, fmt: ".1f", legendY: 233,
   series: [{data: psiCl, color: YELLOW, w: 1.6}, {data: psiTs, color: GREEN, w: 1.6},
            {data: psiG, color: RED, w: 3.2}, {data: psiZeta, color: BLUE, w: 1.9}],
   legend: [{x: 131, color: RED, psi: true, sub: "g", tx: 246},
            {x: 331, color: GREEN, psi: true, sub: "g", sup: "ts", tx: 448},
            {x: 533, color: BLUE, psi: true, sub: "g", sup: "\u03b6", tx: 648},
            {x: 733, color: YELLOW, psi: true, sub: "g", sup: "cl", tx: 848}]},
  {id: "d", top: 832, lim: 0.8, ticks: dTicks, minor: 0.1, fmt: ".1f", legendY: 240, moc: true,
   series: [{data: nao, color: GREEN, w: 1.6}, {data: psiG, color: RED, w: 3.2},
            {data: psiM, color: BLUE, w: 3.2, dom: [0.8, -0.8]}],
   legend: [{x: 131, color: RED, psi: true, sub: "g", tx: 241},
            {x: 331, color: BLUE, psi: true, sub: "m", tx: 441},
            {x: 533, color: GREEN, label: "NAO", tx: 641, len: 59}]},
  {id: "e", top: 1107, lim: 0.4, ticks: eTicks, minor: 0.05, fmt: ".1f", legendY: 238, xlabels: true,
   series: [{data: nao, color: GREEN, w: 1.6, dom: [-0.8, 0.8]}, {data: waterT, color: BLUE, w: 3.2}],
   legend: [{x: 131, color: BLUE, label: "Water temperature anomalies", tx: 243, len: 392},
            {x: 675, color: GREEN, label: "NAO", tx: 791, len: 60}]}
];

function steps(lo, hi, st) {
  return d3.range(Math.round((hi - lo) / st) + 1).map(function(i) { return +(lo + i * st).toFixed(4); });
}

function styleAxis(g) {
  g.select(".domain").remove();
  g.style("color", AXIS).attr("font-size", 22).attr("font-family", null);
  g.selectAll("line").attr("stroke-width", 1.3);
}

panels.forEach(drawPanel);

function drawPanel(p) {
  var bottom = p.top + ph;
  var y = d3.scaleLinear().domain([-p.lim, p.lim]).range([bottom, p.top]);
  var g = svg.append("g").attr("class", "panel-" + p.id);

  g.append("clipPath").attr("id", "clip-" + p.id)
    .append("rect").attr("x", left).attr("y", p.top).attr("width", right - left).attr("height", ph);

  // zero line
  g.append("line")
    .attr("x1", left).attr("x2", right).attr("y1", y(0)).attr("y2", y(0))
    .attr("stroke", "#555").attr("stroke-width", 1);

  // series
  var lines = g.append("g").attr("clip-path", "url(#clip-" + p.id + ")");
  p.series.forEach(function(s) {
    var ys = s.dom ? d3.scaleLinear().domain(s.dom).range([bottom, p.top]) : y;
    var line = d3.line().x(function(d) { return x(d[0]); }).y(function(d) { return ys(d[1]); });
    lines.append("path").datum(s.data)
      .attr("d", line).attr("fill", "none")
      .attr("stroke", s.color).attr("stroke-width", s.w)
      .attr("stroke-linejoin", "round");
  });

  // y axes (ticks inward)
  var minorVals = steps(-p.lim, p.lim, p.minor);
  g.append("g").attr("transform", "translate(" + left + ",0)")
    .call(d3.axisLeft(y).tickValues(minorVals).tickSize(-8).tickFormat(""))
    .call(styleAxis);
  var yl = g.append("g").attr("transform", "translate(" + left + ",0)")
    .call(d3.axisLeft(y).tickValues(p.ticks).tickSize(-16).tickPadding(8).tickFormat(d3.format(p.fmt)))
    .call(styleAxis);
  yl.selectAll("text").attr("fill", "#111").attr("y", function(d) {
    if (Math.abs(d - p.lim) < 1e-6) return 10;
    if (Math.abs(d + p.lim) < 1e-6) return -8;
    return 2;
  });

  g.append("g").attr("transform", "translate(" + right + ",0)")
    .call(d3.axisRight(y).tickValues(minorVals).tickSize(-8).tickFormat(""))
    .call(styleAxis);
  if (p.moc) {
    var yr = d3.scaleLinear().domain([0.8, -0.8]).range([bottom, p.top]);
    var ar = g.append("g").attr("transform", "translate(" + right + ",0)")
      .call(d3.axisRight(yr).tickValues(mocTicks).tickSize(-16).tickPadding(7).tickFormat(d3.format(".1f")))
      .call(styleAxis);
    ar.selectAll("text").attr("fill", BLUE).attr("y", 1);
    g.append("text")
      .attr("transform", "translate(1018," + (p.top + 130) + ") rotate(-90)")
      .attr("text-anchor", "middle").attr("font-size", 24).attr("fill", BLUE)
      .text("MOC (Sv)");
  } else {
    g.append("g").attr("transform", "translate(" + right + ",0)")
      .call(d3.axisRight(y).tickValues(p.ticks).tickSize(-16).tickFormat(""))
      .call(styleAxis);
  }

  // x axes, top and bottom
  var xMinor = steps(0, 300, 10);
  g.append("g").attr("transform", "translate(0," + p.top + ")")
    .call(d3.axisTop(x).tickValues(xMinor).tickSize(-5).tickFormat("")).call(styleAxis);
  g.append("g").attr("transform", "translate(0," + p.top + ")")
    .call(d3.axisTop(x).tickValues(xTicks).tickSize(-9).tickFormat("")).call(styleAxis);
  g.append("g").attr("transform", "translate(0," + bottom + ")")
    .call(d3.axisBottom(x).tickValues(xMinor).tickSize(-5).tickFormat("")).call(styleAxis);
  var xb = g.append("g").attr("transform", "translate(0," + bottom + ")")
    .call(d3.axisBottom(x).tickValues(xTicks).tickSize(-9)
      .tickFormat(p.xlabels ? d3.format("d") : ""))
    .call(styleAxis);
  xb.selectAll("text").attr("fill", "#111").attr("y", 36).attr("dy", 0);

  // frame
  g.append("rect")
    .attr("x", left).attr("y", p.top).attr("width", right - left).attr("height", ph)
    .attr("fill", "none").attr("stroke", AXIS).attr("stroke-width", 1.4);

  // panel letter
  g.append("text").attr("x", 906).attr("y", p.top + 40)
    .attr("text-anchor", "middle").attr("font-size", 27).attr("fill", "#111")
    .text(p.id);

  drawLegend(g, p);
}

function drawLegend(g, p) {
  var ly = p.top + p.legendY;
  p.legend.forEach(function(e) {
    g.append("line")
      .attr("x1", e.x).attr("x2", e.x + 72).attr("y1", ly).attr("y2", ly)
      .attr("stroke", e.color).attr("stroke-width", 3);
    g.append("text").attr("x", e.x + 78).attr("y", ly + 6)
      .attr("font-size", 19).attr("font-weight", "bold").attr("fill", "#111").text("\u2212");
    if (e.psi) {
      g.append("text").attr("x", e.tx).attr("y", ly + 10)
        .attr("font-size", 28).attr("fill", "#111").text("\u03a8");
      g.append("text").attr("x", e.tx + 22).attr("y", ly + 17)
        .attr("font-size", 18).attr("fill", "#111").text(e.sub);
      if (e.sup) {
        g.append("text").attr("x", e.tx + 22).attr("y", ly - 3)
          .attr("font-size", 17).attr("fill", "#111").text(e.sup);
      }
    } else {
      g.append("text").attr("class", "lab").attr("x", e.tx).attr("y", ly + 8)
        .attr("font-size", 23).attr("fill", "#111")
        .attr("textLength", e.len).attr("lengthAdjust", "spacing")
        .text(e.label);
    }
  });
}

// axis title
svg.append("text")
  .attr("x", 458).attr("y", 1433)
  .attr("text-anchor", "middle").attr("font-size", 23).attr("fill", "#111")
  .attr("letter-spacing", 1)
  .text("Time (years)");
</script>
</body>
</html>
